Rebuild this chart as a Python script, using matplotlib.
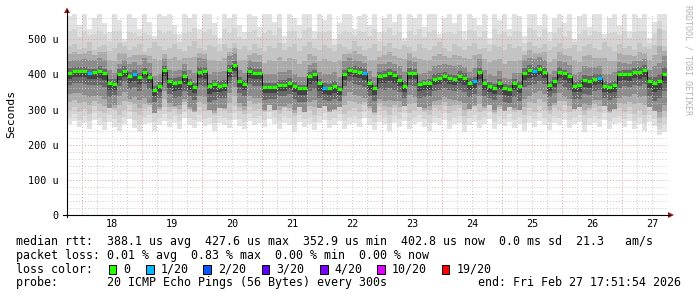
import numpy as np
import matplotlib.pyplot as plt
from matplotlib.lines import Line2D
from matplotlib.patches import Rectangle, Polygon

plt.rcParams['font.family'] = ['DejaVu Sans Mono', 'DejaVu Sans']

W, H = 697, 297

# median rtt (us), one value per 2 hours, 10 days ending Feb 27 17:51:54
median_rtt = [405, 410, 410, 410, 405, 406, 410, 403, 375, 373,
              400, 410, 396, 401, 392, 406, 392, 356, 368, 413,
              380, 375, 378, 395, 376, 365, 408, 410, 366, 372,
              368, 370, 412, 427, 380, 372, 410, 405, 405, 364,
              365, 365, 370, 370, 375, 368, 360, 360, 395, 400,
              375, 362, 360, 366, 358, 402, 412, 411, 408, 403,
              375, 360, 395, 398, 403, 398, 385, 368, 404, 405,
              372, 375, 375, 388, 391, 395, 391, 387, 395, 390,
              375, 380, 406, 375, 368, 362, 376, 360, 358, 375,
              367, 405, 412, 410, 416, 408, 370, 380, 408, 403,
              395, 368, 369, 385, 382, 388, 389, 368, 365, 370,
              400, 402, 400, 407, 407, 412, 380, 375, 382, 402]

# lost pings out of 20
lost = [0] * 120
for i in [4, 13, 51, 59, 81, 93, 106]:
    lost[i] = 1

# slowest / fastest ping per 2 hours (us)
ping_max = [565, 572, 540, 572, 530, 560, 572, 545, 520, 572,
            555, 500, 572, 560, 530, 572, 548, 510, 572, 565,
            572, 540, 515, 572, 560, 572, 530, 572, 572, 545,
            505, 572, 560, 572, 540, 520, 572, 565, 535, 572,
            572, 550, 572, 510, 572, 560, 540, 572, 572, 525,
            572, 555, 572, 500, 545, 572, 572, 530, 565, 572,
            540, 572, 520, 560, 572, 548, 572, 505, 572, 560,
            572, 535, 572, 572, 515, 560, 572, 545, 572, 525,
            572, 560, 540, 572, 505, 572, 555, 572, 530, 572,
            565, 510, 572, 572, 540, 572, 520, 560, 572, 545,
            572, 500, 565, 572, 535, 572, 572, 515, 560, 572,
            540, 572, 525, 572, 560, 572, 505, 550, 572, 572]
ping_min = [258, 268, 250, 262, 245, 270, 255, 242, 265, 250,
            238, 260, 272, 248, 236, 258, 262, 240, 255, 268,
            250, 262, 245, 275, 255, 248, 265, 252, 258, 240,
            262, 255, 248, 270, 252, 244, 268, 256, 262, 250,
            272, 258, 246, 262, 255, 236, 265, 250, 258, 242,
            262, 270, 248, 255, 268, 245, 258, 262, 250, 275,
            255, 242, 265, 258, 238, 262, 250, 268, 245, 258,
            265, 250, 240, 262, 255, 270, 246, 258, 262, 236,
            255, 265, 248, 258, 272, 244, 260, 252, 266, 248,
            258, 240, 262, 250, 268, 256, 242, 262, 255, 270,
            248, 258, 265, 236, 255, 262, 250, 270, 246, 258,
            262, 250, 268, 245, 258, 240, 265, 252, 228, 236]

# 90th / 10th percentile ping per 2 hours (us)
p90 = [480, 488, 472, 476, 492, 470, 478, 485, 468, 474,
       490, 482, 470, 478, 486, 465, 475, 492, 480, 470,
       476, 488, 472, 466, 480, 494, 474, 470, 484, 478,
       468, 486, 476, 490, 472, 480, 470, 488, 476, 466,
       482, 474, 490, 470, 478, 486, 468, 480, 492, 474,
       470, 484, 476, 466, 488, 478, 472, 494, 480, 470,
       476, 486, 468, 480, 490, 474, 472, 484, 478, 466,
       488, 476, 470, 482, 492, 474, 468, 486, 478, 470,
       480, 490, 472, 476, 466, 484, 478, 470, 488, 474,
       482, 468, 492, 480, 474, 486, 470, 478, 490, 472,
       476, 484, 466, 480, 488, 474, 470, 492, 478, 468,
       486, 476, 482, 470, 490, 478, 472, 484, 530, 480]
p10 = [298, 306, 292, 302, 288, 310, 296, 290, 304, 298,
       286, 300, 312, 294, 284, 302, 306, 290, 296, 308,
       294, 302, 288, 312, 298, 292, 306, 296, 300, 286,
       304, 298, 290, 310, 296, 288, 308, 298, 302, 292,
       312, 300, 288, 304, 296, 282, 306, 294, 300, 286,
       304, 310, 292, 298, 308, 288, 300, 304, 294, 312,
       298, 286, 306, 300, 284, 304, 294, 310, 290, 300,
       306, 294, 286, 304, 298, 310, 290, 300, 304, 282,
       298, 306, 292, 300, 312, 288, 302, 296, 308, 292,
       300, 286, 304, 294, 310, 298, 288, 304, 298, 312,
       292, 300, 306, 284, 298, 304, 294, 310, 290, 300,
       304, 294, 308, 288, 300, 286, 306, 296, 262, 280]

# distance of inner percentiles from the median, per 6 hours (us)
up75 = [32, 35, 38, 30, 34, 40, 32, 35, 38, 34,
        40, 33, 30, 36, 38, 34, 32, 40, 36, 30,
        34, 32, 38, 30, 35, 36, 32, 38, 34, 30,
        36, 34, 30, 33, 38, 34, 36, 30, 32, 50]
dn25 = [62, 68, 72, 60, 66, 74, 60, 65, 70, 75,
        66, 62, 72, 65, 60, 70, 74, 64, 62, 70,
        66, 75, 62, 70, 65, 60, 72, 66, 62, 70,
        74, 64, 60, 66, 70, 62, 68, 64, 72, 90]
up60 = [12, 10, 13, 15, 11, 12, 10, 14, 12, 11,
        14, 12, 10, 12, 15, 11, 12, 14, 10, 12,
        11, 12, 14, 10, 12, 11, 15, 12, 10, 12,
        14, 11, 12, 10, 14, 12, 11, 12, 14, 18]
dn40 = [34, 36, 40, 32, 38, 34, 36, 42, 38, 44,
        36, 34, 38, 36, 32, 38, 42, 36, 34, 38,
        36, 42, 34, 38, 36, 34, 40, 36, 34, 38,
        42, 36, 34, 38, 40, 34, 38, 36, 40, 50]

loss_labels = ['0', '1/20', '2/20', '3/20', '4/20', '10/20', '19/20']
loss_colors = ['#26ff00', '#00b8ff', '#0059ff', '#5e00ff', '#7e00ff', '#dd00ff', '#ff0000']

legend_lines = [
    'median rtt:  388.1 us avg  427.6 us max  352.9 us min  402.8 us now  0.0 ms sd  21.3   am/s',
    'packet loss: 0.01 % avg  0.83 % max  0.00 % min  0.00 % now',
    'loss color:',
    'probe:       20 ICMP Echo Pings (56 Bytes) every 300s',
]
end_text = 'end: Fri Feb 27 17:51:54 2026'


def fx(x):
    return x / W


def fy(y):
    return 1 - y / H


def ext(a):
    a = np.asarray(a, dtype=float)
    return np.append(a, a[-1])


def loss_color(n):
    if n == 0:
        return loss_colors[0]
    if n <= 4:
        return loss_colors[n]
    if n <= 10:
        return loss_colors[5]
    return loss_colors[6]


t_end = 27 + (17 * 3600 + 51 * 60 + 54) / 86400
t_start = t_end - 10
edges = t_start + np.arange(len(median_rtt) + 1) / 12

med = np.array(median_rtt, dtype=float)
blk = np.arange(len(med)) // 3
q_max = np.array(ping_max, float)
q_min = np.array(ping_min, float)
q90 = np.array(p90, float)
q10 = np.array(p10, float)
q75 = np.minimum(med + np.array(up75, float)[blk], q90)
q25 = np.maximum(med - np.array(dn25, float)[blk], q10)
q60 = med + np.array(up60, float)[blk]
q40 = med - np.array(dn40, float)[blk]

fig = plt.figure(figsize=(W / 100, H / 100), dpi=100)
ax = fig.add_axes([fx(67), fy(215), 600 / W, 201 / H])

# smoke, light to dark
bands = [
    (q_min, q_max, '#e2e2e2'),
    ((q_min + q10) / 2, (q_max + q90) / 2, '#d4d4d4'),
    (q10, q90, '#c4c4c4'),
    ((q10 + q25) / 2, (q90 + q75) / 2, '#ababab'),
    (q25, q75, '#8c8c8c'),
    (q40, q60, '#686868'),
    ((q40 + med) / 2, med, '#434343'),
]
for lo, hi, c in bands:
    ax.fill_between(edges, ext(lo), ext(hi), step='post', color=c, lw=0, zorder=1)

# grid on top of the smoke
dots = (0, (1, 2))
for v in range(20, 580, 20):
    c = '#e29a9a' if v % 100 == 0 else '#c8c8c8'
    ax.axhline(v, color=c, lw=0.7, ls=dots, zorder=2)
for d in np.arange(18, t_end, 0.25):
    c = '#e29a9a' if d % 1 == 0 else '#c8c8c8'
    ax.axvline(d, color=c, lw=0.7, ls=dots, zorder=2)

# median line coloured by loss
ax.step(edges, ext(med), where='post', color='black', lw=0.6, zorder=3)
ax.hlines(med, edges[:-1], edges[1:], colors=[loss_color(n) for n in lost],
          lw=2.3, zorder=4)

ax.set_xlim(t_start, t_end)
ax.set_ylim(0, 572)
for s in ax.spines.values():
    s.set_visible(False)

yt = [0, 100, 200, 300, 400, 500]
ax.set_yticks(yt, ['0' if v == 0 else f'{v} u' for v in yt])
days = list(range(18, 28))
ax.set_xticks([d + 0.5 for d in days], [str(d) for d in days])
ax.tick_params(axis='y', length=0, pad=5.8, labelsize=7.3)
ax.tick_params(axis='x', length=0, pad=2.6, labelsize=7.3)

# axes with arrows
fig.add_artist(Line2D([fx(67), fx(67)], [fy(217), fy(10)], color='black', lw=0.8))
fig.add_artist(Line2D([fx(63), fx(670)], [fy(215), fy(215)], color='black', lw=0.8))
fig.add_artist(Polygon([(fx(64), fy(13)), (fx(70), fy(13)), (fx(67), fy(7.5))],
                       closed=True, color='#a01818', lw=0))
fig.add_artist(Polygon([(fx(668), fy(212)), (fx(668), fy(218)), (fx(674), fy(215))],
                       closed=True, color='#a01818', lw=0))

fig.text(fx(11), fy(114), 'Seconds', rotation=90, ha='center', va='center', fontsize=8.2)
fig.text(fx(688), fy(5), 'RRDTOOL / TOBI OETIKER', rotation=270, ha='center', va='top',
         fontsize=6, color='#b4b4b4')

rows = [241.5, 255.3, 269.3, 282.7]
for y, line in zip(rows, legend_lines):
    fig.text(fx(16), fy(y), line, ha='left', va='center', fontsize=8.4)
fig.text(fx(681), fy(rows[3]), end_text, ha='right', va='center', fontsize=8.4)

# loss colour boxes
box_x = [108.7, 146, 203.3, 261.7, 320, 377.3, 441.7]
for bx, lab, c in zip(box_x, loss_labels, loss_colors):
    fig.add_artist(Rectangle((fx(bx), fy(273.5)), 7.5 / W, 9 / H,
                             facecolor=c, edgecolor='black', lw=0.7))
    fig.text(fx(bx + 14.5), fy(rows[2]), lab, ha='left', va='center', fontsize=8.4)

fig.savefig('out.png', dpi=100)
